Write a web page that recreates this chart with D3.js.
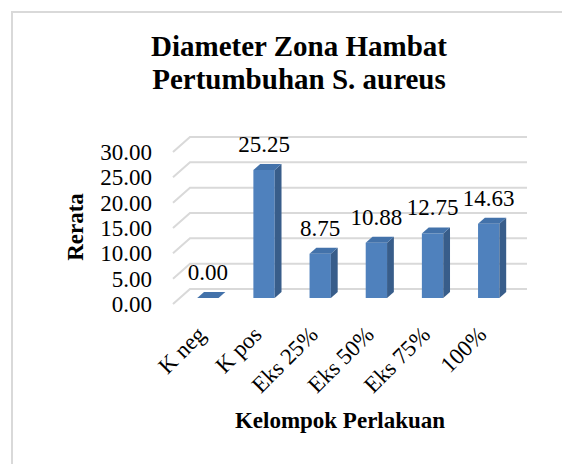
<!DOCTYPE html>
<html>
<head>
<meta charset="utf-8">
<script src="https://cdn.jsdelivr.net/npm/d3@7/dist/d3.min.js"></script>
<style>
  html, body { margin: 0; padding: 0; background: #fff; }
  svg { display: block; }
  text { font-family: "Liberation Serif", "Times New Roman", serif; fill: #000; }
</style>
</head>
<body>
<svg id="chart" width="562" height="464"></svg>
<script>
// ---- data ----
const categories = ["K neg", "K pos", "Eks 25%", "Eks 50%", "Eks 75%", "100%"];
const values = [0.00, 25.25, 8.75, 10.88, 12.75, 14.63];
const yTicks = [0, 5, 10, 15, 20, 25, 30];
const titleLines = ["Diameter Zona Hambat", "Pertumbuhan S. aureus"];
const yTitle = "Rerata";
const xTitle = "Kelompok Perlakuan";

// ---- layout ----
const svg = d3.select("#chart");

// chart frame
svg.append("rect").attr("x", 12).attr("y", 12).attr("width", 600).attr("height", 500)
  .attr("fill", "#fff").attr("stroke", "#d9d9d9").attr("stroke-width", 2);

// 3D projection parameters: offset of the back wall relative to the front edge
const DX = 17, DY = 15;
const backX0 = 190, backX1 = 527;
const yBack = d3.scaleLinear().domain([0, 30]).range([289, 137]);
const yFront = v => yBack(v) + DY;

const x = d3.scaleBand().domain(categories)
  .range([backX0 - DX, backX1 - DX]).paddingInner(0.62).paddingOuter(0.31);

// point at depth t (0 = front edge, 1 = back wall)
const P = (xf, v, t) => [xf + t * DX, yFront(v) - t * DY];

// gridlines (side wall diagonal + back wall)
const grid = svg.append("g");
yTicks.forEach(v => {
  const f = P(backX0 - DX, v, 0), b = P(backX0 - DX, v, 1);
  grid.append("path")
    .attr("d", `M${f[0]},${f[1]}L${b[0]},${b[1]}L${backX1},${yBack(v)}`)
    .attr("fill", "none").attr("stroke", "#d9d9d9").attr("stroke-width", 2);
});

// bars
const t0 = 0.4, t1 = 0.8;
const bars = svg.append("g");
const frontCenter = c => x(c) + x.bandwidth() / 2 + t0 * DX;
categories.forEach((c, i) => {
  const v = values[i];
  const xl = x(c), xr = x(c) + x.bandwidth();
  const poly = pts => "M" + pts.map(p => p.join(",")).join("L") + "Z";
  if (v > 0) {
    bars.append("path").attr("d", poly([P(xl, 0, t0), P(xr, 0, t0), P(xr, v, t0), P(xl, v, t0)]))
      .attr("fill", "#4f81bd");
    bars.append("path").attr("d", poly([P(xr, 0, t0), P(xr, 0, t1), P(xr, v, t1), P(xr, v, t0)]))
      .attr("fill", "#385d8a");
  }
  bars.append("path").attr("d", poly([P(xl, v, t0), P(xr, v, t0), P(xr, v, t1), P(xl, v, t1)]))
    .attr("fill", "#4372aa");
  const top = P(xl, v, t1)[1];
  svg.append("text")
    .attr("x", frontCenter(c))
    .attr("y", top - 12)
    .attr("text-anchor", "middle")
    .attr("font-size", 23)
    .text(d3.format(".2f")(v));
});

// y axis labels (at front edge)
const yFrontScale = d3.scaleLinear().domain(yBack.domain()).range(yBack.range().map(r => r + DY));
const yAxis = svg.append("g").attr("transform", `translate(160,0)`)
  .call(d3.axisLeft(yFrontScale).tickValues(yTicks).tickSize(0).tickPadding(8).tickFormat(d3.format(".2f")));
yAxis.select(".domain").remove();
yAxis.selectAll("text").attr("font-size", 23).attr("font-family", "Liberation Serif, serif").attr("fill", "#000");

// x axis labels (axisBottom already centres ticks on the band)
const xAxis = svg.append("g").attr("transform", `translate(0,336)`)
  .call(d3.axisBottom(x).tickSize(0).tickPadding(0));
xAxis.select(".domain").remove();
xAxis.selectAll("text")
  .attr("font-size", 23).attr("font-family", "Liberation Serif, serif").attr("fill", "#000")
  .attr("text-anchor", "end").attr("dy", 0).attr("y", 0)
  .attr("transform", `translate(${t0 * DX - 1},0) rotate(-45)`);

// titles
svg.append("text").attr("x", 299).attr("y", 56).attr("text-anchor", "middle")
  .attr("font-size", 29).attr("font-weight", "bold").text(titleLines[0]);
svg.append("text").attr("x", 299).attr("y", 89).attr("text-anchor", "middle")
  .attr("font-size", 29).attr("font-weight", "bold").text(titleLines[1]);

svg.append("text").attr("transform", "translate(83,227) rotate(-90)").attr("text-anchor", "middle")
  .attr("font-size", 23).attr("font-weight", "bold").text(yTitle);

svg.append("text").attr("x", 340).attr("y", 428).attr("text-anchor", "middle")
  .attr("font-size", 23).attr("font-weight", "bold").text(xTitle);
</script>
</body>
</html>
